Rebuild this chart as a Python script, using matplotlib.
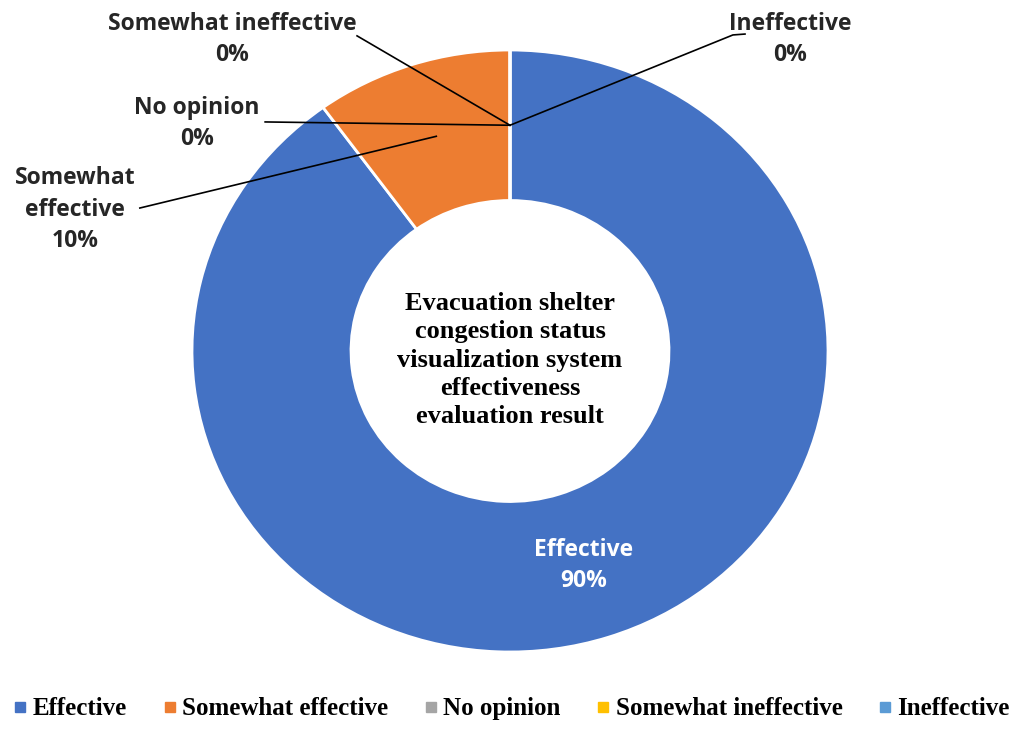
import numpy as np
import matplotlib.pyplot as plt
from matplotlib.lines import Line2D

# survey result
categories = ['Effective', 'Somewhat effective', 'No opinion',
              'Somewhat ineffective', 'Ineffective']
shares = [90, 10, 0, 0, 0]
colors = ['#4472C4', '#ED7D31', '#A5A5A5', '#FFC000', '#5B9BD5']
center_text = ('Evacuation shelter\ncongestion status\nvisualization system\n'
               'effectiveness\nevaluation result')

fig = plt.figure(figsize=(10.2, 7.5), dpi=100)
ax = fig.add_axes([0, 0, 1, 1])

wedges, _ = ax.pie(shares, colors=colors, startangle=90, counterclock=False,
                   radius=1.0, wedgeprops=dict(width=0.5, edgecolor='white', linewidth=2))
ax.set_aspect('auto')
# pixel layout: centre (510, 351), radii 318 x 301
ax.set_xlim(-510 / 318, (1020 - 510) / 318)
ax.set_ylim(-(750 - 351) / 301, 351 / 301)
ax.axis('off')


def mid(w, r=0.75):
    a = np.deg2rad((w.theta1 + w.theta2) / 2)
    return r * np.cos(a), r * np.sin(a)


lab_font = dict(family='Open Sans', fontweight='bold', fontsize=16.5, color='#262626')

# label text centre, line start, optional elbow (data coords)
label_layout = {
    1: ((-1.368, 0.470), [(-1.164, 0.475)]),
    2: ((-0.984, 0.755), [(-0.770, 0.761)]),
    3: ((-0.874, 1.034), [(-0.481, 1.047)]),
    4: ((0.880, 1.036), [(0.739, 1.053), (0.701, 1.050)]),
}
for i, (txt_pos, pts) in label_layout.items():
    mx, my = mid(wedges[i])
    xs = [p[0] for p in pts] + [mx]
    ys = [p[1] for p in pts] + [my]
    ax.plot(xs, ys, color='black', lw=1.2)
    name = categories[i]
    if name == 'Somewhat effective':
        name = 'Somewhat\neffective'
    ax.text(txt_pos[0], txt_pos[1], f'{name}\n{shares[i]}%', ha='center', va='center',
            linespacing=1.4, **lab_font)

mx, my = mid(wedges[0])
ax.text(mx, my, f'{categories[0]}\n{shares[0]}%', ha='center', va='center',
        linespacing=1.4, family='Open Sans', fontweight='bold', fontsize=16.5, color='white')

ax.text(0, -0.03, center_text, ha='center', va='center', family='Liberation Serif',
        fontweight='bold', fontsize=19, linespacing=1.3)

handles = [Line2D([], [], marker='s', ls='', color=c, markersize=7) for c in colors]
fig.legend(handles, categories, loc='center', bbox_to_anchor=(0.5, 0.055), ncol=5,
           frameon=False, prop=dict(family='Liberation Serif', weight='bold', size=18),
           handletextpad=0.1, columnspacing=1.3, handlelength=0.8)

fig.savefig('out.png', dpi=100)
